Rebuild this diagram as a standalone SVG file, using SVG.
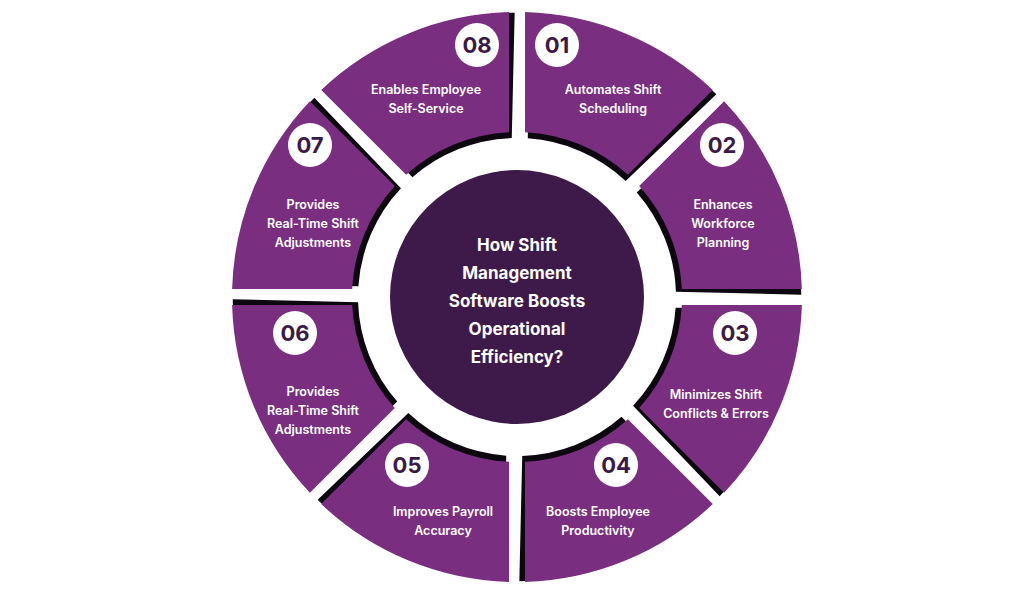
<svg xmlns="http://www.w3.org/2000/svg" width="1024" height="597" viewBox="0 0 1024 597">
<style>
.seg{fill:#7A2E80}
.sh{fill:#0d0710}
.num{fill:#fff}
.nt{font-family:Inter,"Liberation Sans",sans-serif;font-weight:700;font-size:22px;fill:#3a1a45;text-anchor:middle}
.lb{font-family:Inter,"Liberation Sans",sans-serif;font-weight:600;font-size:12.5px;fill:#fff;text-anchor:middle}
.ct{font-family:Inter,"Liberation Sans",sans-serif;font-weight:700;font-size:17px;fill:#fff;text-anchor:middle}
</style>
<defs>
<path id="s" d="M8,-284.89 A285,285 0 0 1 195.79,-207.11 L110.88,-122.2 A165,165 0 0 0 8,-164.81 Z"/>
<path id="d" d="M8,-283.89 A284,284 0 0 1 195.79,-206.11 L106.63,-117.95 A159,159 0 0 0 8,-158.8 Z"/>
</defs>
<rect width="1024" height="597" fill="#fff"/>
<g id="ring" transform="translate(517,297)">
<g transform="rotate(1.0)">
<use href="#d" class="sh"/><use href="#d" class="sh" transform="rotate(45)"/><use href="#d" class="sh" transform="rotate(90)"/><use href="#d" class="sh" transform="rotate(135)"/><use href="#d" class="sh" transform="rotate(180)"/><use href="#d" class="sh" transform="rotate(225)"/><use href="#d" class="sh" transform="rotate(270)"/><use href="#d" class="sh" transform="rotate(315)"/>
</g>
<use href="#s" class="seg"/><use href="#s" class="seg" transform="rotate(45)"/><use href="#s" class="seg" transform="rotate(90)"/><use href="#s" class="seg" transform="rotate(135)"/><use href="#s" class="seg" transform="rotate(180)"/><use href="#s" class="seg" transform="rotate(225)"/><use href="#s" class="seg" transform="rotate(270)"/><use href="#s" class="seg" transform="rotate(315)"/>
</g>
<g id="center">
<circle cx="517" cy="297" r="127" fill="#3E1A4A"/>
<text class="ct" x="517" y="251">How Shift</text>
<text class="ct" x="517" y="279">Management</text>
<text class="ct" x="517" y="307">Software Boosts</text>
<text class="ct" x="517" y="335">Operational</text>
<text class="ct" x="517" y="363">Efficiency?</text>
</g>
<g id="n01"><circle class="num" cx="557" cy="45" r="22"/><text class="nt" x="557" y="53">01</text><text class="lb" x="613" y="94">Automates Shift</text><text class="lb" x="613" y="113">Scheduling</text></g>
<g id="n02"><circle class="num" cx="722" cy="145" r="22"/><text class="nt" x="722" y="153">02</text><text class="lb" x="723" y="209">Enhances</text><text class="lb" x="723" y="228">Workforce</text><text class="lb" x="723" y="247">Planning</text></g>
<g id="n03"><circle class="num" cx="735" cy="333" r="22"/><text class="nt" x="735" y="341">03</text><text class="lb" x="716" y="399">Minimizes Shift</text><text class="lb" x="716" y="418">Conflicts &amp; Errors</text></g>
<g id="n04"><circle class="num" cx="616" cy="465" r="22"/><text class="nt" x="616" y="473">04</text><text class="lb" x="598" y="516">Boosts Employee</text><text class="lb" x="598" y="535">Productivity</text></g>
<g id="n05"><circle class="num" cx="407" cy="465" r="22"/><text class="nt" x="407" y="473">05</text><text class="lb" x="443" y="516">Improves Payroll</text><text class="lb" x="443" y="535">Accuracy</text></g>
<g id="n06"><circle class="num" cx="295" cy="333" r="22"/><text class="nt" x="295" y="341">06</text><text class="lb" x="313" y="396">Provides</text><text class="lb" x="313" y="415">Real-Time Shift</text><text class="lb" x="313" y="434">Adjustments</text></g>
<g id="n07"><circle class="num" cx="310" cy="145" r="22"/><text class="nt" x="310" y="153">07</text><text class="lb" x="313" y="209">Provides</text><text class="lb" x="313" y="228">Real-Time Shift</text><text class="lb" x="313" y="247">Adjustments</text></g>
<g id="n08"><circle class="num" cx="477" cy="45" r="22"/><text class="nt" x="477" y="53">08</text><text class="lb" x="426" y="94">Enables Employee</text><text class="lb" x="426" y="113">Self-Service</text></g>
<g id="connectors"/>
</svg>
